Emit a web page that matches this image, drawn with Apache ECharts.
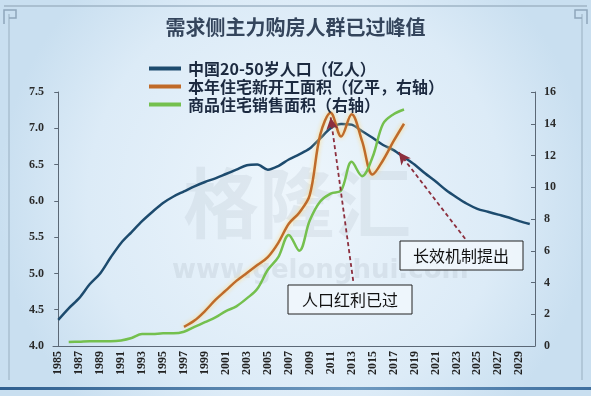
<!DOCTYPE html>
<html><head><meta charset="utf-8">
<script src="https://cdn.jsdelivr.net/npm/echarts@6/dist/echarts.min.js"></script>
<style>html,body{margin:0;padding:0;}#c{width:591px;height:396px;}</style>
</head><body><div id="c"></div>
<script>
var years = [];
for (var y = 1985; y <= 2030; y++) years.push(String(y));

var seriesNames = ['中国20-50岁人口（亿人）', '本年住宅新开工面积（亿平，右轴）', '商品住宅销售面积（右轴）'];

// 中国20-50岁人口（亿人）, 1985-2030
var population = [4.36,4.52,4.66,4.85,5.00,5.22,5.42,5.57,5.72,5.85,5.97,6.06,6.13,6.20,6.26,6.31,6.37,6.43,6.49,6.50,6.43,6.48,6.57,6.64,6.72,6.86,7.00,7.06,7.05,6.96,6.87,6.77,6.70,6.60,6.50,6.38,6.27,6.15,6.05,5.96,5.89,5.85,5.81,5.77,5.72,5.68];

// 本年住宅新开工面积, 1985-2030 (null = no data)
var newStarts = [null,null,null,null,null,null,null,null,null,null,null,null,1.2,1.6,2.2,2.9,3.5,4.1,4.6,5.1,5.6,6.5,7.7,8.4,9.5,13.3,14.7,13.2,14.6,12.9,10.8,11.7,12.9,14.0,null,null,null,null,null,null,null,null,null,null,null,null];

// 商品住宅销售面积, 1985-2030
var sales = [null,0.25,0.27,0.3,0.3,0.3,0.35,0.5,0.75,0.75,0.8,0.8,0.9,1.2,1.5,1.8,2.2,2.5,3.0,3.6,4.8,5.6,7.0,6.0,7.9,9.1,9.6,9.8,11.6,10.7,11.9,14.0,14.6,14.9,null,null,null,null,null,null,null,null,null,null,null,null];

// annotation arrows: [categoryIndex, rightAxisValue] tip -> tail
var arrow1 = [[26, 14.4], [28.15, 4.1]];
var arrow2 = [[32.5, 12.2], [38.9, 6.7]];
var note1 = '人口红利已过';
var note2 = '长效机制提出';

var chart = echarts.init(document.getElementById('c'));
var serif = '"Liberation Serif","DejaVu Serif",serif';
var cjk = '"Noto Sans CJK SC","Noto Sans CJK JP",sans-serif';

var option = {
  backgroundColor: {
    type: 'radial', x: 0.5, y: 0.5, r: 0.75,
    colorStops: [{offset: 0, color: '#eef6fc'}, {offset: 0.7, color: '#dcebf7'}, {offset: 1, color: '#c9dff0'}]
  },
  animation: false,
  title: {
    text: '需求侧主力购房人群已过峰值',
    left: 'center', top: 12,
    textStyle: {fontFamily: cjk, fontSize: 20, fontWeight: 'bold', color: '#34455c'}
  },
  legend: {
    orient: 'vertical', left: 144, top: 55,
    itemWidth: 32, itemHeight: 4, itemGap: 1,
    icon: 'rect',
    data: seriesNames,
    textStyle: {fontFamily: cjk, fontSize: 16, fontWeight: 'bold', color: '#1c2a40', lineHeight: 17, padding: [0,0,0,2]}
  },
  grid: {left: 53, right: 56, top: 92, bottom: 50},
  xAxis: [{
    type: 'category', data: years, boundaryGap: true,
    axisLine: {lineStyle: {color: '#5b6876', width: 1}},
    axisTick: {inside: true, length: 4, interval: 0, lineStyle: {color: '#5b6876'}},
    axisLabel: {interval: 1, rotate: 90, margin: 5, fontFamily: serif, fontWeight: 'bold', fontSize: 12, color: '#222'}
  }, {
    type: 'value', min: -0.5, max: 45.5, show: false
  }],
  yAxis: [{
    type: 'value', min: 4, max: 7.5, interval: 0.5,
    axisLine: {show: true, lineStyle: {color: '#5b6876'}},
    axisTick: {show: true, length: 4, lineStyle: {color: '#5b6876'}},
    splitLine: {show: false},
    axisLabel: {formatter: function (v) { return v.toFixed(1); }, fontFamily: serif, fontWeight: 'bold', fontSize: 12, color: '#2a2a2a', margin: 9}
  }, {
    type: 'value', min: 0, max: 16, interval: 2,
    axisLine: {show: true, lineStyle: {color: '#5b6876'}},
    axisTick: {show: true, inside: true, length: 4, lineStyle: {color: '#5b6876'}},
    splitLine: {show: false},
    axisLabel: {fontFamily: serif, fontWeight: 'bold', fontSize: 12, color: '#2a2a2a', margin: 9}
  }],
  graphic: [
    {type: 'line', shape: {x1: 4, y1: 6, x2: 587, y2: 6}, style: {stroke: '#9fb4c6', lineWidth: 1.5}, silent: true},
    {type: 'line', shape: {x1: 9, y1: 14, x2: 9, y2: 380}, style: {stroke: '#a9bfd1', lineWidth: 1.5}, silent: true},
    {type: 'line', shape: {x1: 582, y1: 14, x2: 582, y2: 380}, style: {stroke: '#a9bfd1', lineWidth: 1.5}, silent: true},
    {type: 'polyline', shape: {points: [[4,24],[4,10],[16,10],[16,18],[9,18]]}, style: {stroke: '#8fa6ba', lineWidth: 1.5, fill: null}, silent: true},
    {type: 'polyline', shape: {points: [[587,24],[587,10],[575,10],[575,18],[582,18]]}, style: {stroke: '#8fa6ba', lineWidth: 1.5, fill: null}, silent: true},
    {type: 'rect', shape: {x: 0, y: 387, width: 591, height: 3}, style: {fill: {type: 'linear', x: 0, y: 0, x2: 1, y2: 0, colorStops: [{offset: 0, color: '#2f5f8f'}, {offset: 0.6, color: '#6f9ac0'}, {offset: 1, color: '#3f6f9f'}]}}, silent: true},
    {type: 'text', left: 183, top: 165, z: 0, silent: true, style: {text: '格隆汇', font: 'bold 76px "Noto Sans CJK SC"', fill: 'rgba(150,160,172,0.15)'}},
    {type: 'text', left: 172, top: 258, z: 0, silent: true, style: {text: 'www.gelonghui.com', font: 'bold 26px "DejaVu Sans"', fill: 'rgba(150,160,172,0.18)'}},
    {type: 'rect', shape: {x: 288, y: 285, width: 124, height: 29}, style: {fill: 'rgba(240,246,252,0.9)', stroke: '#222', lineWidth: 1}, z: 10},
    {type: 'text', x: 350, y: 300, z: 11, style: {text: note1, font: '16px "Noto Sans CJK SC"', fill: '#111', textAlign: 'center', textVerticalAlign: 'middle'}},
    {type: 'rect', shape: {x: 400, y: 241, width: 123, height: 29}, style: {fill: 'rgba(240,246,252,0.9)', stroke: '#222', lineWidth: 1}, z: 10},
    {type: 'text', x: 461, y: 256, z: 11, style: {text: note2, font: '16px "Noto Sans CJK SC"', fill: '#111', textAlign: 'center', textVerticalAlign: 'middle'}}
  ],
  series: [{
    name: seriesNames[0], type: 'line', data: population, yAxisIndex: 0,
    smooth: 0.3, symbol: 'none', color: '#1d4b6e',
    lineStyle: {width: 2.5, color: '#1d4b6e'}
  }, {
    name: seriesNames[1], type: 'line', data: newStarts, yAxisIndex: 1,
    smooth: 0.35, symbol: 'none', color: '#c06a28',
    lineStyle: {width: 2.5, color: '#bf6b2a', shadowColor: 'rgba(255,215,120,0.95)', shadowBlur: 4}
  }, {
    name: seriesNames[2], type: 'line', data: sales, yAxisIndex: 1,
    smooth: 0.35, symbol: 'none', color: '#74c04e',
    lineStyle: {width: 2.5, color: '#74c04e'}
  }, {
    name: 'arrows', type: 'line', xAxisIndex: 1, yAxisIndex: 1, data: [],
    markLine: {
      silent: true, symbol: ['arrow', 'none'], symbolSize: [9, 12],
      label: {show: false},
      lineStyle: {type: [4, 3], color: '#8c2f3e', width: 1.8},
      data: [
        [{coord: arrow1[0]}, {coord: arrow1[1]}],
        [{coord: arrow2[0]}, {coord: arrow2[1]}]
      ]
    }
  }]
};
chart.setOption(option);
</script>
</body></html>
